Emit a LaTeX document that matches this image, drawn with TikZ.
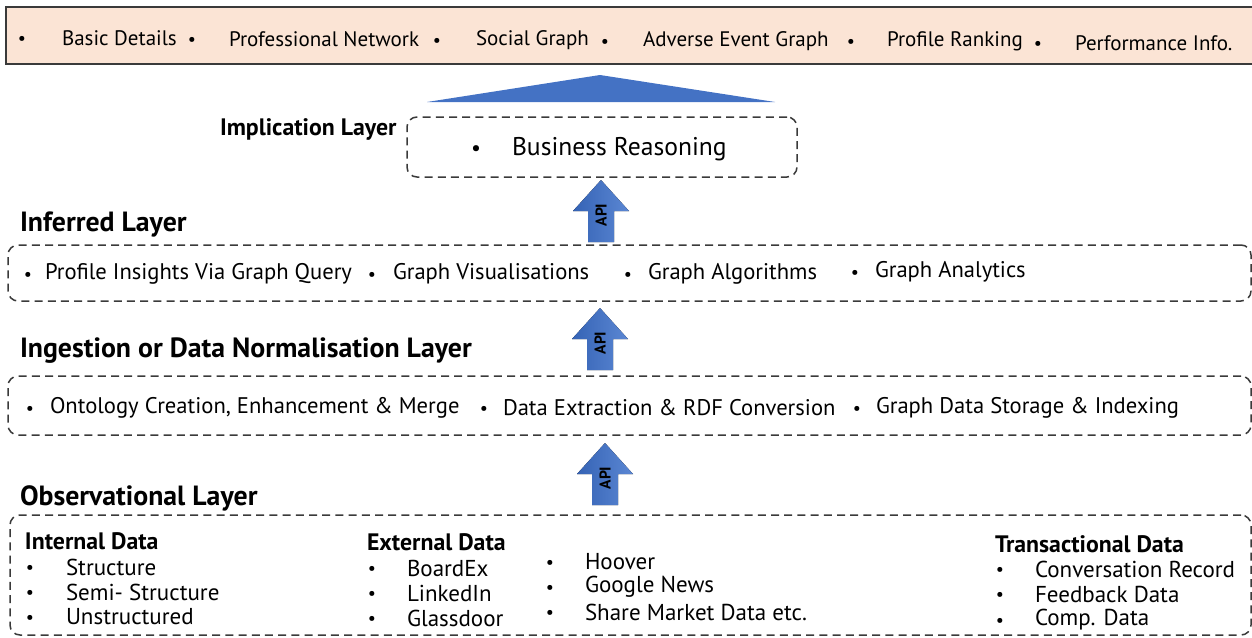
\documentclass[tikz,border=0pt]{standalone}
\usepackage{fontspec}
\setmainfont{PT Sans}
\usetikzlibrary{fit}
\definecolor{peach}{HTML}{FBE4D5}
\definecolor{apiblue}{HTML}{4472C4}
\definecolor{apiblueL}{HTML}{5B87D3}
\definecolor{apiblueD}{HTML}{3563B5}
\definecolor{edge}{HTML}{3A3A3A}
\tikzset{
  x=0.5pt, y=-0.5pt,
  every node/.style={inner sep=0pt, outer sep=0pt, text=black},
  txt/.style={anchor=west, yshift=-1pt},
  toptxt/.style={txt, font=\fontsize{10.5}{12}\selectfont},
  bodytxt/.style={txt, font=\fontsize{11.3}{13}\selectfont},
  obstxt/.style={txt, font=\fontsize{11.5}{13}\selectfont},
  bul/.style={anchor=center, yshift=-2pt, font=\fontsize{9}{11}\selectfont},
  bighead/.style={txt, font=\fontsize{13.9}{16}\selectfont\bfseries},
  smallhead/.style={txt, font=\fontsize{11.9}{14}\selectfont\bfseries},
  layerbox/.style={draw=edge, line width=0.75pt, dash pattern=on 4pt off 2.6pt, rounded corners=5pt, inner sep=0pt},
  apiarrow/.pic={
    \fill[left color=apiblueD, right color=apiblueL]
      (-13,0) -- (-13,-31) -- (-28,-31) -- (0,-62) -- (28,-31) -- (13,-31) -- (13,0) -- cycle;
    \node[rotate=90, font=\fontsize{7.8}{8}\selectfont\bfseries] at (0,-27) {API};
  }
}
\begin{document}
\begin{tikzpicture}
\useasboundingbox (0,0) rectangle (1252,637);

% outcome bar
\node[fit={(6,7) (1262,64)}, draw=edge, line width=1pt, fill=peach] (topbar) {};
\foreach \bx/\tx/\ty/\t/\n in {
  22/62/36/{Basic Details}/1,
  192/229/37/{Professional Network}/2,
  437/476/38/{Social Graph}/3,
  605/643/39/{Adverse Event Graph}/4,
  851/887/39/{Profile Ranking}/5,
  1038/1075/41/{Performance Info.}/6}{
  \node[bul] (topb\n) at (\bx,\ty) {•};
  \node[toptxt] (topt\n) at (\tx,\ty) {\t};
}

% roof
\fill[apiblue] (427,102) -- (600,75) -- (775,102) -- cycle;

% implication layer
\node[smallhead] (implab) at (220,127) {Implication Layer};
\node[fit={(407,117) (797,177)}, layerbox] (impbox) {};
\node[bul, font=\fontsize{11}{13}\selectfont] (impb) at (476,147) {•};
\node[txt, font=\fontsize{12.8}{15}\selectfont] (impt) at (512,147) {Business Reasoning};

% inferred layer
\node[bighead] (inflab) at (20,223) {Inferred Layer};
\node[fit={(8,245) (1251,301)}, layerbox] (infbox) {};
\foreach \bx/\tx/\ty/\t/\n in {
  28/45/272/{Profile Insights Via Graph Query}/1,
  372/393/272/{Graph Visualisations}/2,
  628/648/272/{Graph Algorithms}/3,
  855/875/270/{Graph Analytics}/4}{
  \node[bul] (infb\n) at (\bx,\ty) {•};
  \node[bodytxt] (inft\n) at (\tx,\ty) {\t};
}

% ingestion layer
\node[bighead] (inglab) at (20,349) {Ingestion or Data Normalisation Layer};
\node[fit={(8,376) (1251,435)}, layerbox] (ingbox) {};
\foreach \bx/\tx/\ty/\t/\n in {
  30/50/406/{Ontology Creation, Enhancement \& Merge}/1,
  484/503/406/{Data Extraction \& RDF Conversion}/2,
  857/876/406/{Graph Data Storage \& Indexing}/3}{
  \node[bul] (ingb\n) at (\bx,\ty) {•};
  \node[bodytxt] (ingt\n) at (\tx,\ty) {\t};
}

% observational layer
\node[bighead] (obslab) at (20,496) {Observational Layer};
\node[fit={(10,515) (1251,635)}, layerbox] (obsbox) {};
\node[smallhead] (h1) at (25,539) {Internal Data};
\node[smallhead] (h2) at (367,540) {External Data};
\node[smallhead] (h3) at (995,542) {Transactional Data};
\foreach \bx/\tx/\ty/\t/\n in {
  30/66/565/{Structure}/1,
  30/66/590/{Semi- Structure}/2,
  30/66/615/{Unstructured}/3,
  372/407/566/{BoardEx}/4,
  372/407/591/{LinkedIn}/5,
  372/407/616/{Glassdoor}/6,
  550/585/560/{Hoover}/7,
  550/585/585/{Google News}/8,
  550/585/610/{Share Market Data etc.}/9,
  1000/1035/567/{Conversation Record}/10,
  1000/1035/592/{Feedback Data}/11,
  1000/1035/618/{Comp. Data}/12}{
  \node[bul] (obsb\n) at (\bx,\ty) {•};
  \node[obstxt] (obst\n) at (\tx,\ty) {\t};
}

% API arrows between layers
\pic at (601,242) {apiarrow};
\pic at (600,370) {apiarrow};
\pic at (605,505) {apiarrow};
\end{tikzpicture}
\end{document}
